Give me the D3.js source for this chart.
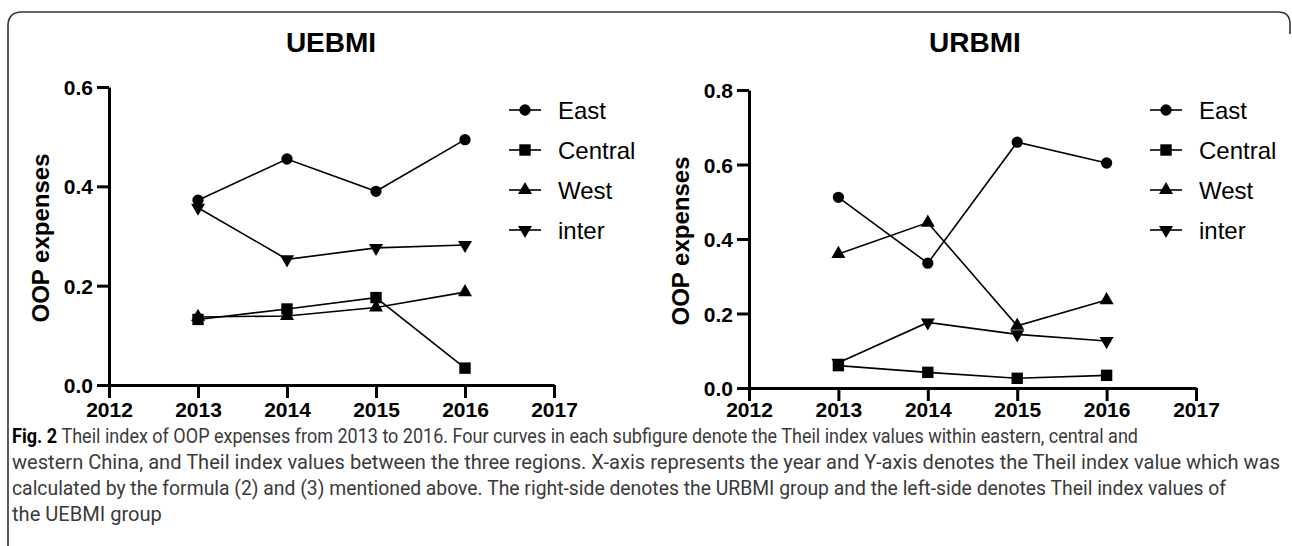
<!DOCTYPE html>
<html>
<head>
<meta charset="utf-8">
<script src="https://cdn.jsdelivr.net/npm/d3@7"></script>
<style>
  body { margin: 0; background: #fff; }
  svg { display: block; }
  .tick text { font-family: "Liberation Sans", Arial, sans-serif; font-weight: bold; font-size: 21px; fill: #000; }
</style>
</head>
<body>
<div id="chart"></div>
<script>
// years and series
var years = [2013, 2014, 2015, 2016];
var seriesNames = ["East", "Central", "West", "inter"];
var xTicks = [2012, 2013, 2014, 2015, 2016, 2017];

var uebmiEast    = [0.372, 0.455, 0.390, 0.494];
var uebmiCentral = [0.132, 0.153, 0.176, 0.034];
var uebmiWest    = [0.137, 0.139, 0.156, 0.187];
var uebmiInter   = [0.357, 0.253, 0.276, 0.282];

var urbmiEast    = [0.512, 0.335, 0.660, 0.604];
var urbmiCentral = [0.060, 0.042, 0.026, 0.034];
var urbmiWest    = [0.360, 0.444, 0.167, 0.236];
var urbmiInter   = [0.068, 0.176, 0.144, 0.126];

var uebmiTicks = [0.0, 0.2, 0.4, 0.6];
var urbmiTicks = [0.0, 0.2, 0.4, 0.6, 0.8];

var captionLines = [
  "Theil index of OOP expenses from 2013 to 2016. Four curves in each subfigure denote the Theil index values within eastern, central and",
  "western China, and Theil index values between the three regions. X-axis represents the year and Y-axis denotes the Theil index value which was",
  "calculated by the formula (2) and (3) mentioned above. The right-side denotes the URBMI group and the left-side denotes Theil index values of",
  "the UEBMI group"
];

var width = 1292, height = 546;

var svg = d3.select("#chart").append("svg")
    .attr("width", width)
    .attr("height", height);

// figure frame
svg.append("path")
    .attr("d", "M8,546 L8,26 Q8,12 22,12 L1278,12 Q1290,12 1290,24 L1290,34")
    .attr("fill", "none")
    .attr("stroke", "#333")
    .attr("stroke-width", 1.6);

var symbols = {
    "East": d3.symbol().type(d3.symbolCircle).size(100),
    "Central": d3.symbol().type(d3.symbolSquare).size(130),
    "West": d3.symbol().type(d3.symbolTriangle).size(85),
    "inter": d3.symbol().type(d3.symbolTriangle).size(85)
};

function drawPanel(p) {
    var x = d3.scaleLinear().domain([2012, 2017]).range([p.left, p.right]);
    var y = d3.scaleLinear().domain([0, p.ymax]).range([p.bottom, p.top]);

    var g = svg.append("g");

    g.append("text")
        .attr("x", p.titleX).attr("y", 52)
        .attr("text-anchor", "middle")
        .style("font-family", "'Liberation Sans', Arial, sans-serif")
        .style("font-weight", "bold")
        .style("font-size", "28px")
        .text(p.title);

    g.append("text")
        .attr("transform", "translate(" + p.labelX + "," + p.labelY + ") rotate(-90)")
        .attr("text-anchor", "middle")
        .style("font-family", "'Liberation Sans', Arial, sans-serif")
        .style("font-weight", "bold")
        .style("font-size", "24px")
        .text("OOP expenses");

    var xAxis = g.append("g")
        .attr("transform", "translate(0," + p.bottom + ")")
        .call(d3.axisBottom(x).tickValues(xTicks).tickFormat(d3.format("d")).tickSize(13).tickSizeOuter(0).tickPadding(p.pad));

    var yAxis = g.append("g")
        .attr("transform", "translate(" + p.left + ",0)")
        .call(d3.axisLeft(y).tickValues(p.ticks).tickFormat(d3.format(".1f")).tickSize(12).tickSizeOuter(0).tickPadding(4));

    [xAxis, yAxis].forEach(function(a) {
        a.select(".domain").attr("stroke", "#000").attr("stroke-width", 3);
        a.selectAll(".tick line").attr("stroke", "#000").attr("stroke-width", 3);
    });
    yAxis.selectAll(".tick text").attr("dy", "0.36em");

    var line = d3.line()
        .x(function(d, i) { return x(years[i]); })
        .y(function(d) { return y(d); });

    p.series.forEach(function(vals) {
        g.append("path")
            .attr("d", line(vals))
            .attr("fill", "none")
            .attr("stroke", "#000")
            .attr("stroke-width", 1.6);
    });

    // markers: inter and West underneath, then Central and East
    [3, 2, 1, 0].forEach(function(k) {
        var name = seriesNames[k];
        g.selectAll(".m" + k)
            .data(p.series[k])
            .enter().append("path")
            .attr("d", symbols[name]())
            .attr("fill", "#000")
            .attr("transform", function(d, i) {
                return "translate(" + x(years[i]) + "," + y(d) + ")" + (name == "inter" ? " rotate(180)" : "");
            });
    });

    // legend
    var lg = g.selectAll(".legend")
        .data(seriesNames)
        .enter().append("g")
        .attr("transform", function(d, i) { return "translate(" + p.legendX + "," + (110 + i * 40) + ")"; });

    lg.append("line")
        .attr("x1", -16).attr("x2", 16)
        .attr("stroke", "#000").attr("stroke-width", 1.6);

    lg.append("path")
        .attr("d", function(d) { return symbols[d](); })
        .attr("fill", "#000")
        .attr("transform", function(d) { return d == "inter" ? "rotate(180)" : null; });

    lg.append("text")
        .attr("x", 33).attr("dy", "0.36em")
        .style("font-family", "'Liberation Sans', Arial, sans-serif")
        .style("font-size", "24px")
        .text(function(d) { return d; });
}

drawPanel({
    title: "UEBMI", titleX: 331,
    labelX: 49, labelY: 238,
    left: 109, right: 554, top: 87, bottom: 385,
    ymax: 0.6, ticks: uebmiTicks, pad: 4,
    legendX: 525,
    series: [uebmiEast, uebmiCentral, uebmiWest, uebmiInter]
});

drawPanel({
    title: "URBMI", titleX: 975,
    labelX: 689, labelY: 241,
    left: 749, right: 1196, top: 90, bottom: 388,
    ymax: 0.8, ticks: urbmiTicks, pad: 1,
    legendX: 1166,
    series: [urbmiEast, urbmiCentral, urbmiWest, urbmiInter]
});

// caption, squeezed to the widths of the printed lines
var capEnds = [1138, 1280, 1226, null];
var cap = svg.append("g")
    .style("font-family", "Roboto, 'Liberation Sans', sans-serif")
    .style("font-size", "20px")
    .style("fill", "#3a3a3a");

var ratio = 1;
captionLines.forEach(function(t, i) {
    var tx = cap.append("text")
        .attr("x", 12)
        .attr("y", 443 + i * 26);
    if (i == 0) {
        tx.append("tspan").style("font-weight", "bold").style("fill", "#000").text("Fig. 2 ");
    }
    tx.append("tspan").text(t);
    var natural = tx.node().getComputedTextLength();
    var target = capEnds[i] != null ? capEnds[i] - 12 : natural * ratio;
    if (i == 1) ratio = target / natural;
    tx.attr("textLength", target).attr("lengthAdjust", "spacingAndGlyphs");
});
</script>
</body>
</html>
